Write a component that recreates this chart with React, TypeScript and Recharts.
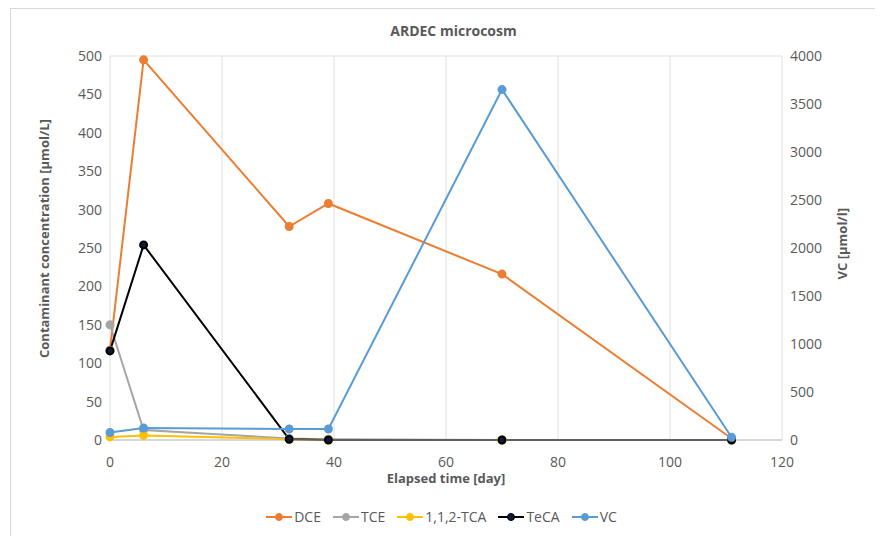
import React from "react";
import { LineChart, Line, XAxis, YAxis, CartesianGrid, Legend } from "recharts";

const days = [0, 6, 32, 39, 70, 111];
const dce = [117, 495, 278, 308, 216, 2];
const tce = [150, 13, 2, 1, 0, 0];
const tca112 = [4, 6, 1, 0, 0, 0];
const teca = [116, 254, 1, 0, 0, 0];
const vc = [78, 125, 115, 115, 3650, 28];

const xTicks = [0, 20, 40, 60, 80, 100, 120];
const leftTicks = [0, 50, 100, 150, 200, 250, 300, 350, 400, 450, 500];
const rightTicks = [0, 500, 1000, 1500, 2000, 2500, 3000, 3500, 4000];

const data = days.map((d, i) => ({
  day: d,
  DCE: dce[i],
  TCE: tce[i],
  TCA: tca112[i],
  TeCA: teca[i],
  VC: vc[i],
}));

const FONT = "'Open Sans', 'Noto Sans', sans-serif";
const tickStyle = { fill: "#595959", fontSize: 14, fontFamily: FONT };

const legendItems = [
  { name: "DCE", color: "#ED7D31", dot: "#ED7D31" },
  { name: "TCE", color: "#A5A5A5", dot: "#A5A5A5" },
  { name: "1,1,2-TCA", color: "#FFC000", dot: "#FFC000" },
  { name: "TeCA", color: "#000000", dot: "#0B1A3A" },
  { name: "VC", color: "#5B9BD5", dot: "#5B9BD5" },
];

const LegendContent = () => (
  <div style={{ display: "flex", justifyContent: "center", gap: 12, fontFamily: FONT, fontSize: 14, color: "#595959" }}>
    {legendItems.map((it) => (
      <div key={it.name} style={{ display: "flex", alignItems: "center" }}>
        <svg width={26} height={10} style={{ marginRight: 2 }}>
          <line x1={0} y1={5} x2={26} y2={5} stroke={it.color} strokeWidth={2} />
          <circle cx={13} cy={5} r={3.5} fill={it.dot} stroke={it.color} />
        </svg>
        <span>{it.name}</span>
      </div>
    ))}
  </div>
);

export default function App() {
  return (
    <div style={{ position: "relative", width: 875, height: 528, border: "1px solid #d9d9d9", borderRight: "none", borderBottom: "none", boxSizing: "border-box", marginLeft: 2, background: "#fff" }}>
      <div style={{ position: "absolute", top: 12, left: 0, width: 885, textAlign: "center", fontFamily: FONT, fontWeight: "bold", fontSize: 14, color: "#595959" }}>
        ARDEC microcosm
      </div>
      <LineChart
        width={873}
        height={527}
        data={data}
        margin={{ top: 47, right: 42, left: 30, bottom: 0 }}
      >
        <CartesianGrid stroke="#e0e0e0" strokeWidth={1} />
        <XAxis
          dataKey="day"
          type="number"
          domain={[0, 120]}
          ticks={xTicks}
          tick={tickStyle}
          tickLine={false}
          axisLine={{ stroke: "#bfbfbf" }}
          height={77}
          tickMargin={11}
          label={{ value: "Elapsed time [day]", position: "insideTop", offset: 34, style: { fill: "#595959", fontSize: 13, fontWeight: "bold", fontFamily: FONT } }}
        />
        <YAxis
          yAxisId="left"
          domain={[0, 500]}
          ticks={leftTicks}
          tick={tickStyle}
          tickLine={false}
          axisLine={false}
          width={69}
          label={{ value: "Contaminant concentration [µmol/L]", angle: -90, position: "insideLeft", offset: 3, dy: 110, style: { fill: "#595959", fontSize: 13, fontWeight: "bold", fontFamily: FONT } }}
        />
        <YAxis
          yAxisId="right"
          orientation="right"
          domain={[0, 4000]}
          ticks={rightTicks}
          tick={tickStyle}
          tickLine={false}
          axisLine={false}
          width={60}
          label={{ value: "VC [µmol/l]", angle: -90, position: "insideRight", offset: 0, dy: -40, style: { fill: "#595959", fontSize: 13, fontWeight: "bold", fontFamily: FONT } }}
        />
        <Legend content={<LegendContent />} verticalAlign="bottom" wrapperStyle={{ bottom: 10 }} />
        <Line yAxisId="left" dataKey="DCE" stroke="#ED7D31" strokeWidth={2} dot={{ r: 3.5, fill: "#ED7D31", stroke: "#ED7D31" }} isAnimationActive={false} />
        <Line yAxisId="left" dataKey="TCE" stroke="#A5A5A5" strokeWidth={2} dot={{ r: 3.5, fill: "#A5A5A5", stroke: "#A5A5A5" }} isAnimationActive={false} />
        <Line yAxisId="left" dataKey="TCA" name="1,1,2-TCA" stroke="#FFC000" strokeWidth={2} dot={{ r: 3.5, fill: "#FFC000", stroke: "#FFC000" }} isAnimationActive={false} />
        <Line yAxisId="left" dataKey="TeCA" stroke="#000000" strokeWidth={2} dot={{ r: 3.5, fill: "#0B1A3A", stroke: "#000" }} isAnimationActive={false} />
        <Line yAxisId="right" dataKey="VC" stroke="#5B9BD5" strokeWidth={2} dot={{ r: 3.5, fill: "#5B9BD5", stroke: "#5B9BD5" }} isAnimationActive={false} />
      </LineChart>
    </div>
  );
}
